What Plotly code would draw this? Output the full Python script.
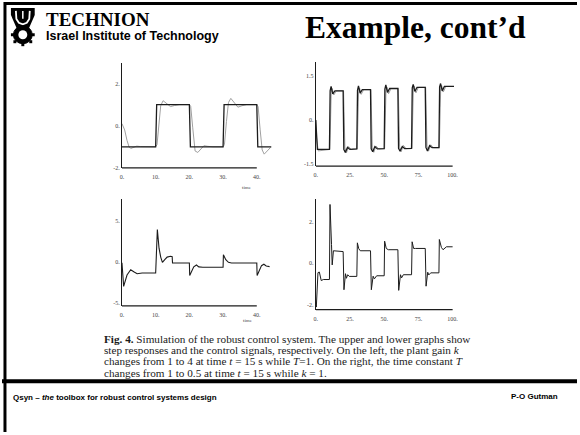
import plotly.graph_objects as go

W, H = 580, 435

# ---------------- data ----------------
# Top-left: step responses, plant gain k changes 1 -> 4 at t = 15
tl_t_model = [0, 10, 10.3, 20, 20.3, 30, 30.3, 40, 40.3, 44.3]
tl_y_model = [-1, -1, 1, 1, -1, -1, 1, 1, -1, -1]
tl_t_resp = [0, 0.8, 1.5, 2.1, 2.6, 3.4, 4.4, 5.5, 7, 10, 10.4, 11.0, 11.5, 12.2, 13.0,
             14.4, 15.6, 17, 20, 20.4, 21.0, 21.7, 22.5, 23.4, 24.3, 25.5, 27, 30, 30.4,
             31.0, 31.6, 32.3, 33.3, 34.4, 35.6, 37, 40, 40.4, 41.0, 41.6, 42.2, 43.0, 44.1]
tl_y_resp = [0.1, -0.2, -0.7, -1.0, -1.08, -1.02, -0.97, -0.99, -1.0, -1.0, -0.9, 0.0, 0.95,
             1.19, 1.08, 0.91, 0.96, 1.0, 1.0, 0.92, -0.1, -1.2, -1.27, -1.12, -0.95, -0.98,
             -1.0, -1.0, -0.9, 0.2, 1.1, 1.3, 1.12, 0.88, 0.95, 1.0, 1.0, 0.9, -0.2, -1.15,
             -1.35, -1.22, -1.03]

# Top-right: step responses, time constant T changes 1 -> 0.5 at t = 15
tr_t_model = [0, 1.2,
              10, 10.5, 11.2, 12.4, 14, 20, 20.5, 21.6, 23.2, 25,
              30, 30.5, 31.2, 32.4, 34, 40, 40.5, 41.6, 43.2, 45,
              50, 50.5, 51.2, 52.4, 54, 60, 60.5, 61.6, 63.2, 65,
              70, 70.5, 71.2, 72.4, 74, 80, 80.5, 81.6, 83.2, 85,
              90, 90.5, 91.2, 92.4, 94, 101]
tr_y_model = [0, -1.0,
              -1.0, 1.0, 1.15, 0.9, 1.0, 1.0, -1.0, -1.1, -0.93, -1.0,
              -0.98, 1.02, 1.17, 0.92, 1.04, 1.04, -0.98, -1.08, -0.9, -0.98,
              -0.97, 1.06, 1.2, 0.95, 1.08, 1.08, -0.96, -1.06, -0.9, -0.97,
              -0.96, 1.1, 1.22, 0.98, 1.12, 1.12, -0.93, -1.05, -0.87, -0.94,
              -0.94, 1.14, 1.25, 1.0, 1.15, 1.15]
tr_t_resp = [0, 0.6, 1.8,
             10.3, 11.3, 12.0, 13.2, 15, 20.3, 21.3, 22.4, 24, 26,
             30.3, 31.3, 32.0, 33.2, 35, 40.3, 41.3, 42.4, 44, 46,
             50.3, 51.3, 52.0, 53.2, 55, 60.3, 61.3, 62.4, 64, 66,
             70.3, 71.3, 72.0, 73.2, 75, 80.3, 81.3, 82.4, 84, 86,
             90.3, 91.3, 92.0, 93.2, 95, 101]
tr_y_resp = [0, -0.6, -1.05,
             -1.0, 0.95, 1.08, 0.86, 1.0, 1.0, -0.95, -1.12, -0.9, -1.0,
             -0.98, 0.97, 1.1, 0.88, 1.04, 1.04, -0.93, -1.1, -0.88, -0.98,
             -0.97, 1.01, 1.13, 0.9, 1.08, 1.08, -0.91, -1.08, -0.86, -0.97,
             -0.96, 1.05, 1.16, 0.93, 1.12, 1.12, -0.89, -1.06, -0.84, -0.94,
             -0.94, 1.09, 1.18, 0.96, 1.15,
             1.15]

# Bottom-left: control signal (left case)
bl_t = [0, 0.5, 1.5, 2.6, 3.5, 4.5, 6, 10, 10.5, 11.0, 11.5, 12.0, 12.7, 13.4, 14.4, 14.9,
        15.0, 20, 20.1, 21.3, 22.1, 22.8, 24, 30, 30.1, 30.8, 31.6, 32.5, 40, 40.1, 41.4,
        42.1, 42.8, 43.8]
bl_u = [-0.1, -3.0, -1.6, -0.95, -1.2, -1.45, -1.35, -1.35, 4.0, 1.7, 0.6, -0.04, 0.3, 0.6,
        0.7, 0.65, -0.12, -0.12, -1.67, -0.6, -0.37, -0.6, -0.65, -0.65, 0.89, 0.28, -0.04,
        -0.12, -0.12, -1.67, -0.45, -0.28, -0.5, -0.57]

# Bottom-right: control signal (right case)
br_t = [0, 0.4, 1.6, 2.6, 4.0, 5.5, 10, 10.4, 11.5, 12.0, 12.9, 20, 20.6, 21.7, 22.4, 23.3,
        24.5, 30, 30.4, 31.4, 32.5, 40, 40.6, 41.9, 42.8, 44.5, 50, 50.3, 51.5, 53, 60, 60.6,
        61.9, 62.7, 64, 70, 70.4, 71.5, 73, 80, 80.6, 81.8, 82.6, 84, 90, 90.3, 91.8, 93,
        95.5, 100]
br_u = [-2.0, -2.1, -0.45, -0.42, -0.83, -0.78, -0.78, 2.82, 0.9, -0.08, 0.6, 0.56, -1.27,
        -0.5, -0.72, -0.55, -0.63, -0.63, 0.98, 0.7, 0.6, 0.6, -1.27, -0.62, -0.75, -0.6,
        -0.6, 1.06, 0.71, 0.65, 0.65, -1.3, -0.55, -0.7, -0.55, -0.55, 1.03, 0.71, 0.71,
        0.71, -1.1, -0.43, -0.56, -0.46, -0.46, 1.14, 0.76, 0.65, 0.79, 0.79]

# tick labels
left_xticks = [0, 10, 20, 30, 40]
left_xtext = ["0.", "10.", "20.", "30.", "40."]
right_xticks = [0, 25, 50, 75, 100]
right_xtext = ["0.", "25.", "50.", "75.", "100."]
tl_yticks, tl_ytext = [-2, 0, 2], ["-2.", "0.", "2."]
tr_yticks, tr_ytext = [-1.5, 0, 1.5], ["-1.5", "0.", "1.5"]
bl_yticks, bl_ytext = [-5, 0, 5], ["-5.", "0.", "5."]
br_yticks, br_ytext = [-2, 0, 2], ["-2.", "0.", "2."]

caption_lines = [
    "<b>Fig. 4.</b> Simulation of the robust control system. The upper and lower graphs show",
    "step responses and the control signals, respectively. On the left, the plant gain <i>k</i>",
    "changes from 1 to 4 at time <i>t</i> = 15 s while <i>T</i>=1. On the right, the time constant <i>T</i>",
    "changes from 1 to 0.5 at time <i>t</i> = 15 s while <i>k</i> = 1.",
]

# ---------------- helpers ----------------
def px(x):
    return x / W

def py(y):
    return 1 - y / H

DARK = "#1c1c1c"
GRAY = "#a0a0a0"
TICKFONT = dict(family="Liberation Serif", size=6, color="#444")

fig = go.Figure()

def add_line(x, y, ax, color, width):
    fig.add_trace(go.Scatter(x=x, y=y, mode="lines", xaxis="x" + ax, yaxis="y" + ax,
                             line=dict(color=color, width=width), hoverinfo="skip",
                             showlegend=False))

add_line(tl_t_resp, tl_y_resp, "", GRAY, 1)
add_line(tl_t_model, tl_y_model, "", DARK, 1.3)
add_line(tr_t_resp, tr_y_resp, "2", GRAY, 1)
add_line(tr_t_model, tr_y_model, "2", DARK, 1.3)
add_line(bl_t, bl_u, "3", DARK, 1.1)
add_line(br_t, br_u, "4", DARK, 1.0)

def xax(dom, rng, ticks, text, anchor):
    return dict(domain=dom, range=rng, anchor=anchor, showline=False, showgrid=False,
                zeroline=False, tickvals=ticks, ticktext=text, ticks="", tickfont=TICKFONT,
                ticklabelstandoff=4, fixedrange=True)

def yax(dom, rng, ticks, text, anchor):
    return dict(domain=dom, range=rng, anchor=anchor, showline=True, linecolor=DARK,
                linewidth=1.2, showgrid=False, zeroline=False, tickvals=ticks,
                ticktext=text, ticks="", tickfont=TICKFONT, fixedrange=True)

left_dom = [px(121), px(274)]
right_dom = [px(316.5), px(457.3)]

fig.update_layout(
    width=W, height=H, margin=dict(l=0, r=0, t=0, b=0),
    paper_bgcolor="white", plot_bgcolor="white", showlegend=False,
    xaxis=xax(left_dom, [0, 45], left_xticks, left_xtext, "y"),
    yaxis=yax([py(169), py(63)], [-2, 3], tl_yticks, tl_ytext, "x"),
    xaxis2=xax(right_dom, [0, 102], right_xticks, right_xtext, "y2"),
    yaxis2=yax([py(167.3), py(62)], [-1.57, 2.0], tr_yticks, tr_ytext, "x2"),
    xaxis3=xax(left_dom, [0, 45], left_xticks, left_xtext, "y3"),
    yaxis3=yax([py(308), py(200)], [-5.4, 7.8], bl_yticks, bl_ytext, "x3"),
    xaxis4=xax(right_dom, [0, 102], right_xticks, right_xtext, "y4"),
    yaxis4=yax([py(311.7), py(200)], [-2.22, 3.1], br_yticks, br_ytext, "x4"),
)

shapes = []
# x-axis base lines (only over the labelled span)
for ax, xend in (("", 40), ("2", 100), ("3", 40), ("4", 100)):
    shapes.append(dict(type="line", xref="x" + ax, yref="y" + ax + " domain",
                       x0=0, x1=xend, y0=0, y1=0, line=dict(color=DARK, width=1.2)))

# slide frame
shapes.append(dict(type="line", xref="paper", yref="paper", x0=px(3), x1=px(3),
                   y0=py(2), y1=py(435), line=dict(color="black", width=3)))
shapes.append(dict(type="line", xref="paper", yref="paper", x0=px(2), x1=px(580),
                   y0=py(3.5), y1=py(3.5), line=dict(color="black", width=3)))
shapes.append(dict(type="rect", xref="paper", yref="paper", x0=px(0), x1=px(580),
                   y0=py(386), y1=py(382), fillcolor="black", line=dict(width=0)))

# logo (simplified emblem)
def path(points, close=True):
    s = "M " + " L ".join(f"{px(a):.5f},{py(b):.5f}" for a, b in points)
    return s + (" Z" if close else "")

shapes.append(dict(type="path", xref="paper", yref="paper",
                   path=path([(9, 8), (33, 8), (33, 15), (27, 29), (15, 29), (9, 15)]),
                   fillcolor="black", line=dict(width=0)))
shapes.append(dict(type="path", xref="paper", yref="paper",
                   path=path([(14, 11), (14.5, 19), (17, 23), (21, 24.5), (25, 23), (27.5, 19),
                              (28, 11)], close=False),
                   line=dict(color="white", width=1.8)))
shapes.append(dict(type="path", xref="paper", yref="paper",
                   path=path([(21, 11), (21, 19)], close=False),
                   line=dict(color="white", width=1.5)))
shapes.append(dict(type="circle", xref="paper", yref="paper", x0=px(11.5), x1=px(30.5),
                   y0=py(44), y1=py(26), fillcolor="black", line=dict(color="black", width=1)))
shapes.append(dict(type="circle", xref="paper", yref="paper", x0=px(16.5), x1=px(25.5),
                   y0=py(39.5), y1=py(30.5), fillcolor="white", line=dict(width=0)))
for (a, b) in [(10.5, 35), (31.5, 35), (21, 45), (13, 42), (29, 42)]:
    shapes.append(dict(type="rect", xref="paper", yref="paper", x0=px(a - 1.5),
                       x1=px(a + 1.5), y0=py(b + 1.5), y1=py(b - 1.5),
                       fillcolor="black", line=dict(width=0)))
fig.update_layout(shapes=shapes)

annotations = []
def text(x, y, s, size, family, color="black", xanchor="left"):
    annotations.append(dict(xref="paper", yref="paper", x=px(x), y=py(y), text=s,
                            showarrow=False, xanchor=xanchor, yanchor="middle",
                            font=dict(size=size, family=family, color=color)))

text(42, 20, "<b>TECHNION</b>", 19, "Liberation Serif")
text(42, 36, "<b>Israel Institute of Technology</b>", 12.5, "Liberation Sans")
text(304, 28, "<b>Example, cont\u2019d</b>", 31.5, "Liberation Serif")

text(247, 189, "time", 5, "Liberation Serif", "#444", "center")
text(248, 323, "time", 5, "Liberation Serif", "#444", "center")

for i, line in enumerate(caption_lines):
    text(101, 341 + i * 11.5, line, 11.2, "Liberation Serif", "#1a1a1a")

text(9, 400, "<b>Qsyn \u2013 <i>the</i> toolbox for robust control systems design</b>", 8,
     "Liberation Sans")
text(563, 399, "<b>P-O Gutman</b>", 8, "Liberation Sans", xanchor="right")

fig.update_layout(annotations=annotations)

fig.write_html("out.html", config={"displayModeBar": False},
               post_script="document.body.style.margin='0';document.body.style.overflow='hidden';")
